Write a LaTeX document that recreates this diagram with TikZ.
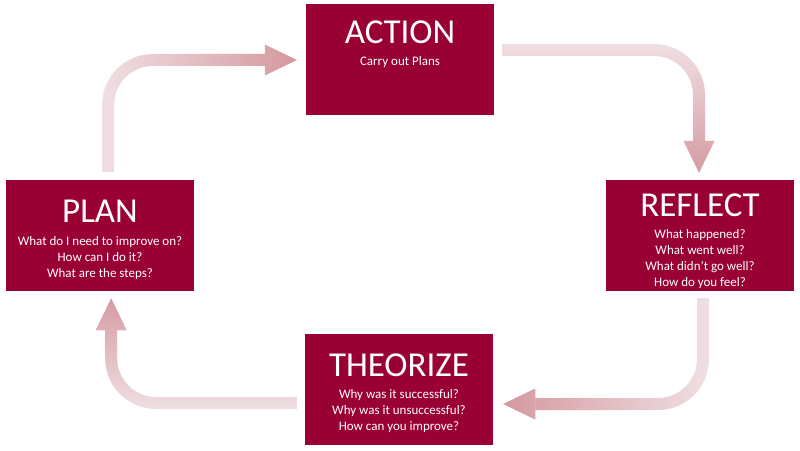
\documentclass[tikz,border=0pt]{standalone}
\usepackage{fontspec}
\setmainfont{Carlito}
\usepackage{tikz}
\usetikzlibrary{positioning, arrows.meta, fadings, calc}
\definecolor{cBox}{HTML}{990033}
\definecolor{cLight}{HTML}{F0E0E3}
\definecolor{cDark}{HTML}{D3939B}
\tikzfading[name=flowfade, left color=transparent!100, right color=transparent!0]

\begin{document}
\begin{tikzpicture}[x=1pt, y=1pt,
    box/.style={fill=cBox, minimum width=188pt, minimum height=111pt, inner sep=0pt},
    ttl/.style={text=white, font=\fontsize{35}{40}\selectfont, inner sep=0pt, anchor=base},
    qs/.style={text=white, font=\fontsize{13}{16}\selectfont, align=center, inner sep=0pt, anchor=north},
    flow/.style={line width=12pt, rounded corners=45pt, -{Triangle[length=32pt, width=31pt, line width=0pt]}},
    flowtop/.style={flow, cDark, path fading=flowfade}]
      \useasboundingbox (0,0) rectangle (800,450);
      % the four stages
      \node[box] (act) at (400,390) {};
      \node[box] (ref) at (700,214) {};
      \node[box] (theo) at (399,61) {};
      \node[box] (plan) at (100,214.5) {};
      \node[ttl] (actT) at ([yshift=-39pt]act.north) {ACTION};
      \node[qs] (actQ) at ([yshift=-13pt]actT.base) {Carry out Plans};
      \node[ttl] (refT) at ([yshift=-36pt]ref.north) {REFLECT};
      \node[qs] (refQ) at ([yshift=-13pt]refT.base) {What happened?\\What went well?\\What didn’t go well?\\How do you feel?};
      \node[ttl] (theoT) at ([yshift=-43pt]theo.north) {THEORIZE};
      \node[qs] (theoQ) at ([yshift=-13pt]theoT.base) {Why was it successful?\\Why was it unsuccessful?\\How can you improve?};
      \node[ttl] (planT) at ([yshift=-43pt]plan.north) {PLAN};
      \node[qs] (planQ) at ([yshift=-13pt]planT.base) {What do I need to improve on?\\How can I do it?\\What are the steps?};
      % arrows, light to dark
      \draw[flow, cLight, shorten <=8pt, shorten >=9pt] ([xshift=8pt]plan.north) |- (act.west);
      \draw[flowtop, shorten <=8pt, shorten >=9pt] ([xshift=8pt]plan.north) |- (act.west);
      \draw[flow, cLight, shorten <=8pt, shorten >=7.5pt] ([yshift=10pt]act.east) -| ([xshift=-1pt]ref.north);
      \draw[flowtop, fading angle=-90, shorten <=8pt, shorten >=7.5pt] ([yshift=10pt]act.east) -| ([xshift=-1pt]ref.north);
      \draw[flow, cLight, shorten <=6.5pt, shorten >=10pt] ([xshift=3pt]ref.south) |- ([yshift=-15pt]theo.east);
      \draw[flowtop, fading angle=180, shorten <=6.5pt, shorten >=10pt] ([xshift=3pt]ref.south) |- ([yshift=-15pt]theo.east);
      \draw[flow, cLight, shorten <=8pt, shorten >=7pt] ([yshift=-14pt]theo.west) -| ([xshift=11pt]plan.south);
      \draw[flowtop, fading angle=90, shorten <=8pt, shorten >=7pt] ([yshift=-14pt]theo.west) -| ([xshift=11pt]plan.south);
    \end{tikzpicture}
\end{document}
